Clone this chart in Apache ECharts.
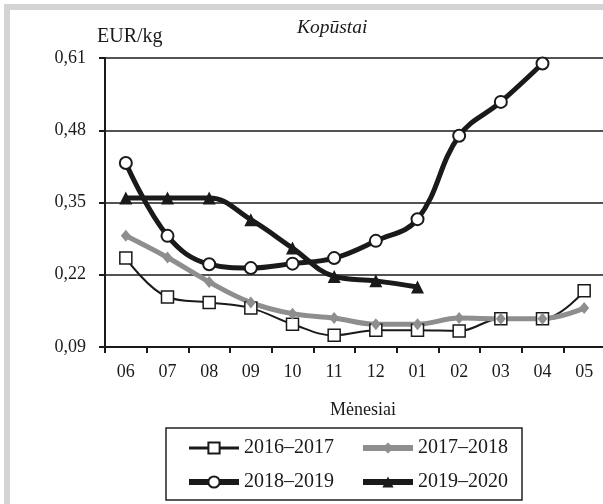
<!DOCTYPE html>
<html>
<head>
<meta charset="utf-8">
<script src="https://cdn.jsdelivr.net/npm/echarts@6/dist/echarts.min.js"></script>
<style>
  html, body { margin: 0; padding: 0; background: #fff; }
  #chart { width: 603px; height: 504px; }
</style>
</head>
<body>
<div id="chart"></div>
<script>
  // menesiai (birzelis .. geguze)
  const months = ['06', '07', '08', '09', '10', '11', '12', '01', '02', '03', '04', '05'];
  const s2016 = [0.25, 0.18, 0.17, 0.16, 0.131, 0.111, 0.12, 0.12, 0.119, 0.141, 0.141, 0.191];
  const s2017 = [0.29, 0.251, 0.207, 0.17, 0.15, 0.142, 0.131, 0.131, 0.142, 0.141, 0.141, 0.16];
  const s2018 = [0.421, 0.29, 0.239, 0.232, 0.24, 0.25, 0.281, 0.32, 0.47, 0.531, 0.6, null];
  const s2019 = [0.358, 0.358, 0.358, 0.319, 0.268, 0.217, 0.209, 0.198, null, null, null, null];
  const yTicks = [0.09, 0.22, 0.35, 0.48, 0.61];

  const black = '#1a1a1a';
  const gray = '#8e8e8e';
  const serif = 'Liberation Serif';

  let myChart = echarts.init(document.getElementById('chart'));
  let option = {
    animation: false,
    backgroundColor: '#fff',
    textStyle: { fontFamily: serif },
    graphic: [{
      type: 'rect',
      shape: { x: 7, y: 7, width: 800, height: 800 },
      style: { fill: null, stroke: '#d4d4d4', lineWidth: 6 },
      silent: true
    }],
    title: [{
      text: 'Kopūstai',
      left: 297,
      top: 18,
      padding: 0,
      textStyle: { fontFamily: serif, fontStyle: 'italic', fontWeight: 'normal', fontSize: 19.5, color: black }
    }, {
      text: 'EUR/kg',
      left: 97,
      top: 27,
      padding: 0,
      textStyle: { fontFamily: serif, fontWeight: 'normal', fontSize: 20, color: black }
    }],
    legend: {
      left: 166,
      top: 428,
      width: 340,
      padding: [9, 0, 7, 20],
      itemWidth: 50,
      itemHeight: 14,
      itemGap: 12,
      borderColor: '#222',
      borderWidth: 1.5,
      textStyle: { fontFamily: serif, fontSize: 20, color: black, lineHeight: 22, width: 104 },
      data: [
        { name: '2016–2017', lineStyle: { width: 3 } },
        { name: '2017–2018', lineStyle: { width: 6 } },
        { name: '2018–2019', lineStyle: { width: 6 } },
        { name: '2019–2020', lineStyle: { width: 6 } }
      ]
    },
    grid: {
      left: 105,
      top: 58,
      width: 500,
      height: 289,
      containLabel: false,
      outerBoundsMode: 'none'
    },
    xAxis: {
      type: 'category',
      data: months,
      boundaryGap: true,
      name: 'Mėnesiai',
      nameLocation: 'middle',
      nameGap: 54,
      nameTextStyle: { fontFamily: serif, fontSize: 18, color: black, padding: [0, 0, 0, 16] },
      axisLine: { lineStyle: { color: black, width: 2 } },
      axisTick: { show: true, length: 6, alignWithLabel: false, lineStyle: { color: black, width: 2 } },
      axisLabel: { fontFamily: serif, fontSize: 18, color: black, margin: 16 },
      splitLine: { show: false }
    },
    yAxis: {
      type: 'value',
      min: 0.09,
      max: 0.61,
      axisLine: { show: true, lineStyle: { color: black, width: 2 } },
      axisTick: { show: true, length: 6, customValues: yTicks, lineStyle: { color: black, width: 2 } },
      axisLabel: {
        fontFamily: serif, fontSize: 18, color: black, margin: 19,
        customValues: yTicks,
        formatter: v => v.toFixed(2).replace('.', ',')
      },
      splitLine: { show: true, lineStyle: { color: black, width: 1.5 } }
    },
    series: [{
      name: '2016–2017',
      type: 'line',
      data: s2016,
      smooth: 0.4,
      symbol: 'rect',
      symbolSize: 12,
      lineStyle: { color: black, width: 2 },
      itemStyle: { color: '#fff', borderColor: black, borderWidth: 1.5 }
    }, {
      name: '2017–2018',
      type: 'line',
      data: s2017,
      smooth: 0.4,
      symbol: 'diamond',
      symbolSize: [10, 12],
      lineStyle: { color: gray, width: 5 },
      itemStyle: { color: gray, borderColor: gray, borderWidth: 0 }
    }, {
      name: '2018–2019',
      type: 'line',
      data: s2018,
      smooth: 0.4,
      symbol: 'circle',
      symbolSize: 12,
      lineStyle: { color: black, width: 5 },
      itemStyle: { color: '#fff', borderColor: black, borderWidth: 2 }
    }, {
      name: '2019–2020',
      type: 'line',
      data: s2019,
      smooth: 0.4,
      symbol: 'triangle',
      symbolSize: 13,
      lineStyle: { color: black, width: 5 },
      itemStyle: { color: black, borderColor: black, borderWidth: 0 }
    }]
  };
  myChart.setOption(option);
</script>
</body>
</html>
